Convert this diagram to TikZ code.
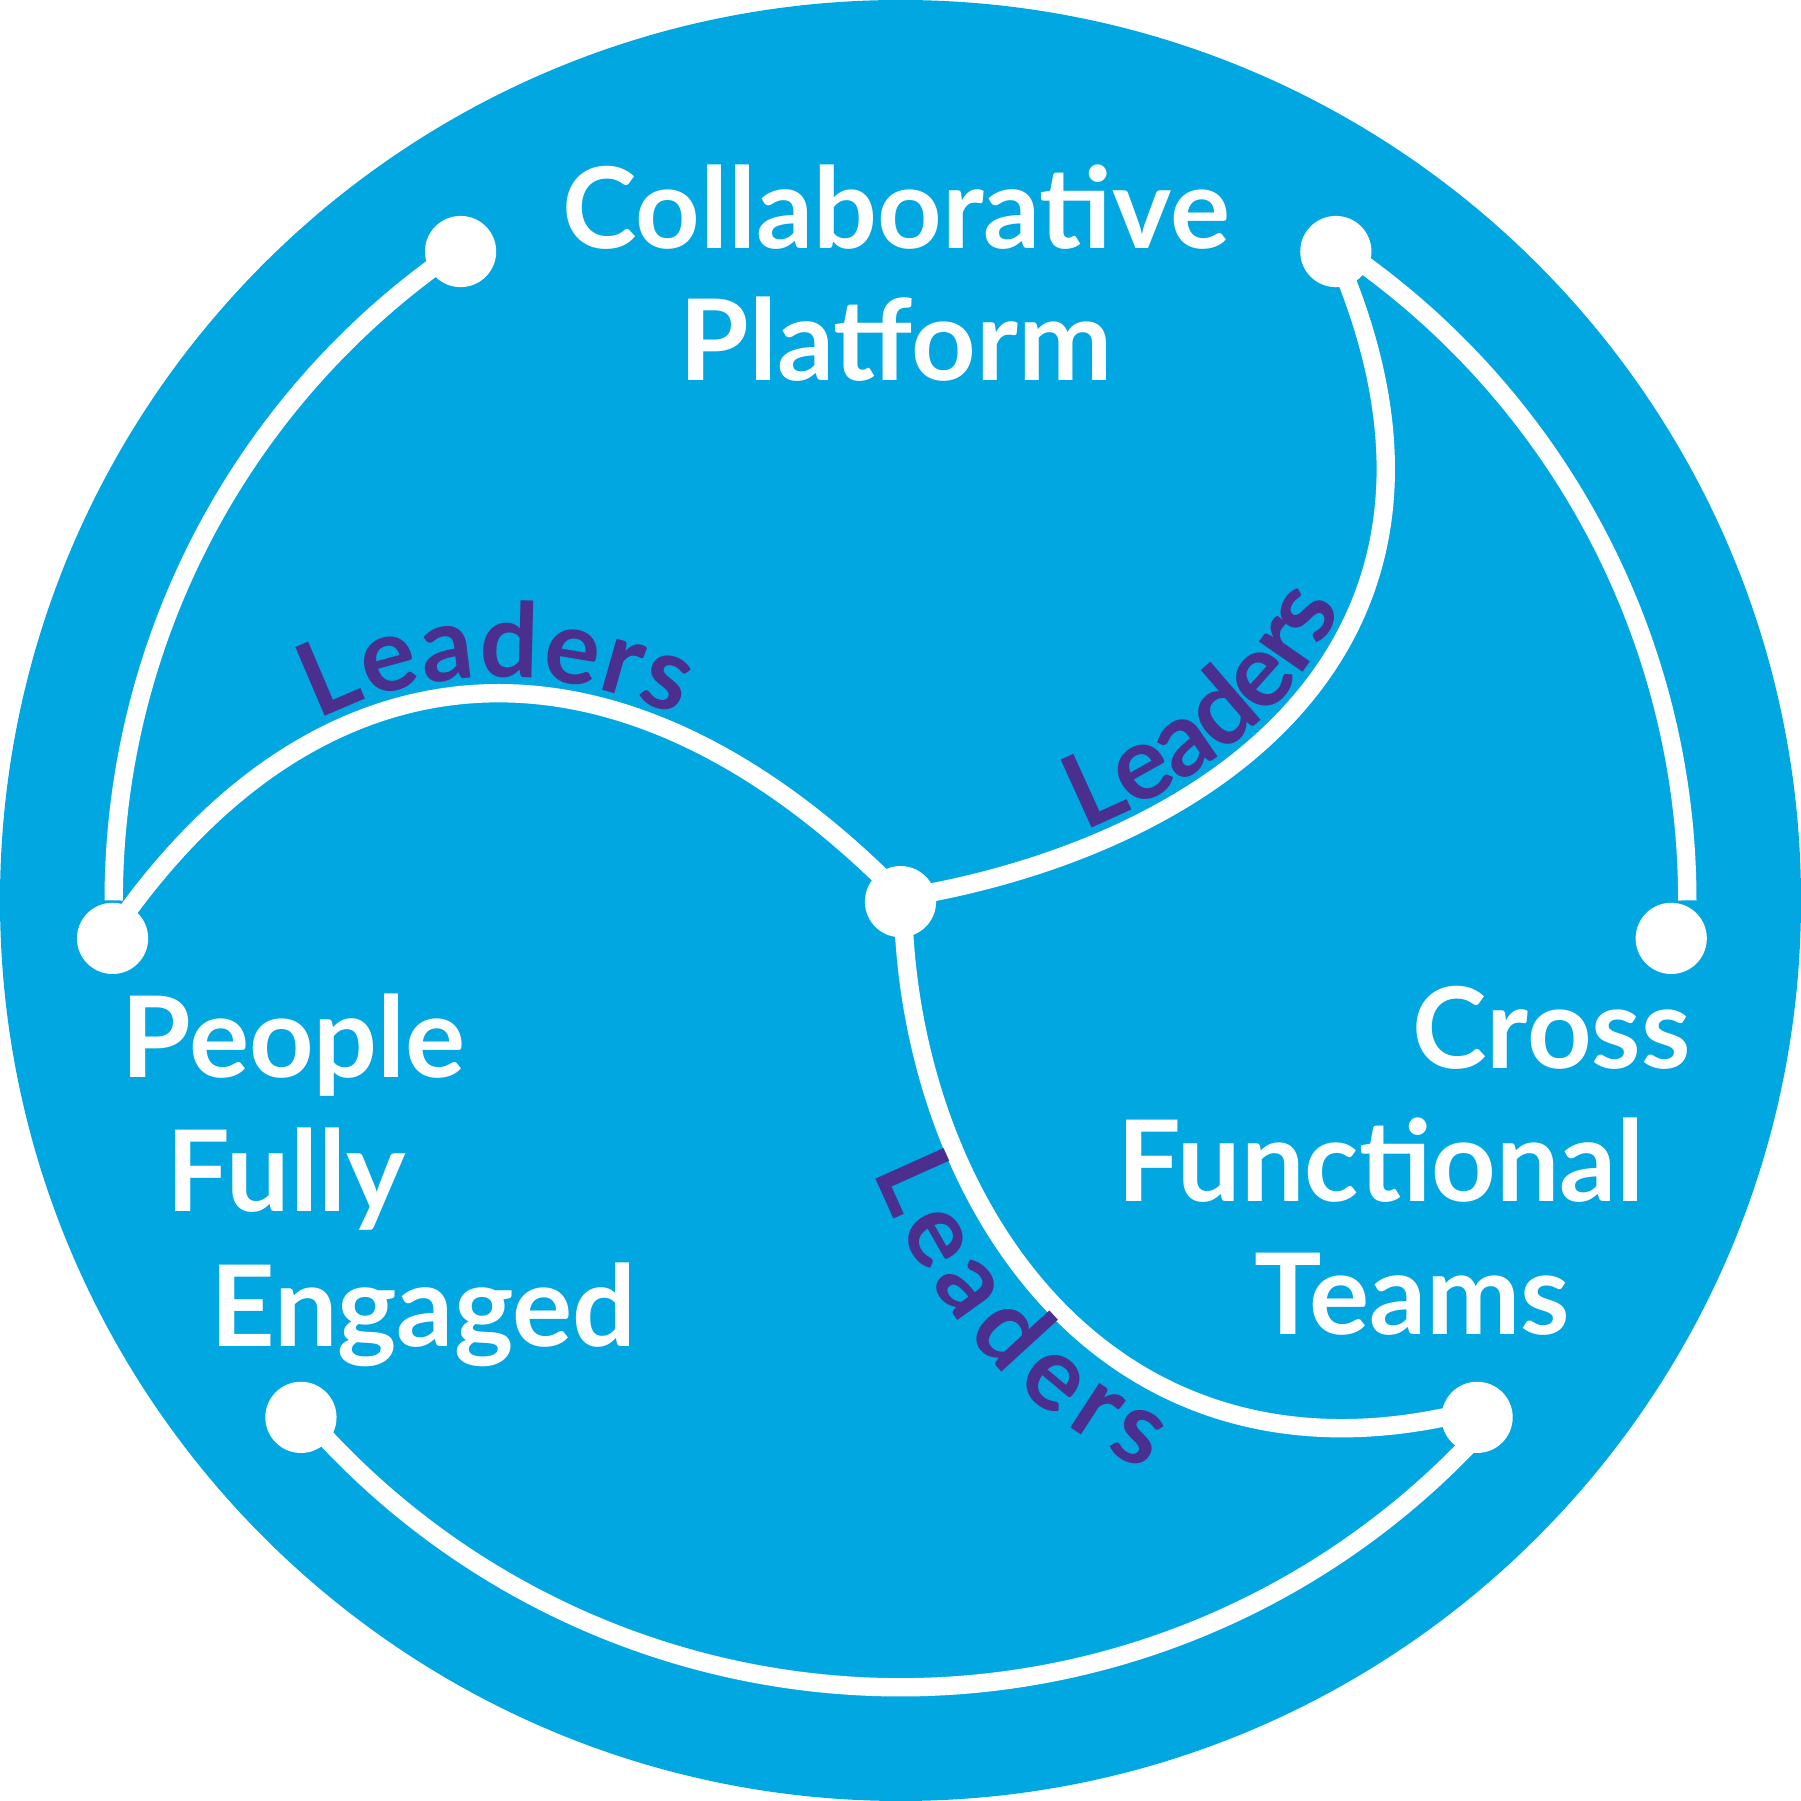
\documentclass[tikz,border=0pt]{standalone}
\usepackage{fontspec}
\setmainfont{Lato}
\usetikzlibrary{decorations.text}
\definecolor{bg}{HTML}{00A7E1}
\definecolor{pur}{HTML}{4A2F8E}
\newfontfamily\bigf{Lato Bold}
\newcommand{\lbl}{\bigf\fontsize{98}{100}\selectfont}
\newcommand{\ldf}{\bigf\fontsize{90}{90}\selectfont}
\begin{document}
\begin{tikzpicture}[x=1pt,y=1pt,
  wl/.style={white,line width=16pt},
  dot/.style={circle,fill=white,minimum size=62pt,inner sep=0pt},
  txt/.style={text=white,font=\lbl,inner sep=0pt},
  lead/.style={decorate,decoration={text along path,raise=#1,text={|\ldf\color{pur}|Leaders}}}]
\useasboundingbox (0,0) rectangle (1568,1568);
\fill[bg] (784,784) circle[radius=784];
\coordinate (O) at (784,784);
% outer arcs
\draw[wl] (O) ++(125:685) arc[start angle=125,end angle=180,radius=685];
\draw[wl] (O) ++(56:685) arc[start angle=56,end angle=0,radius=685];
\draw[wl] (O) ++(-139:685) arc[start angle=-139,end angle=-42,radius=685];
\node[dot] (A) at (401,1349) {};
\node[dot] (B) at (1163,1349) {};
\node[dot] (C) at (98,751) {};
\node[dot] (D) at (1455,751) {};
\node[dot] (E) at (262,334) {};
\node[dot] (F) at (1286,334) {};
\node[dot] (G) at (784,783) {};
% inner curves
\draw[wl] (112,776) .. controls (290,1018) and (540,1028) .. (772,800);
\draw[wl] (806,790) .. controls (1060,838) and (1300,1008) .. (1170,1330);
\draw[wl] (787,758) .. controls (800,520) and (960,270) .. (1262,335);
\path[lead=14pt,decoration={text align={align=center}}] (112,776) .. controls (290,1018) and (540,1028) .. (772,800);
\path[lead=14pt,decoration={text align={left indent=150pt}}] (806,790) .. controls (1060,838) and (1300,1008) .. (1170,1330);
\path[lead=-72pt,decoration={text align={left indent=185pt}}] (787,758) .. controls (800,520) and (960,270) .. (1262,335);
% labels
\node[txt,anchor=base] (t1) at (780,1352) {Collaborative};
\node[txt,anchor=base] (t2) at (780,1237) {Platform};
\node[txt,anchor=base west] (p1) at (106,630) {People};
\node[txt,anchor=base west] (p2) at (145,513) {Fully};
\node[txt,anchor=base west] (p3) at (183,396) {Engaged};
\node[txt,anchor=base east] (c1) at (1472,638) {Cross};
\node[txt,anchor=base east] (c2) at (1432,522) {Functional};
\node[txt,anchor=base east] (c3) at (1367,406) {Teams};
\end{tikzpicture}
\end{document}
